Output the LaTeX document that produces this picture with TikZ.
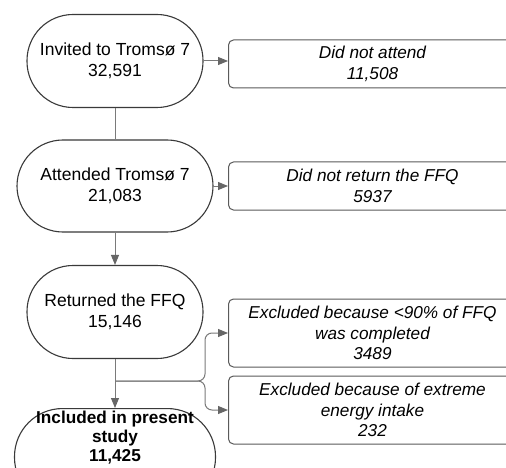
\documentclass[tikz,border=0pt]{standalone}
\usepackage{fontspec}
\setmainfont{Liberation Sans}
\usetikzlibrary{arrows.meta}
\definecolor{stadline}{HTML}{3A3A3A}
\definecolor{boxline}{HTML}{5A5A5A}
\definecolor{conn}{HTML}{7A7A7A}
\definecolor{tipc}{HTML}{666666}
\tikzset{
  stad/.style={draw=stadline, line width=1.1pt, fill=white, rounded corners=46pt,
    minimum height=93pt, align=center, inner sep=0pt,
    font=\fontsize{17.5}{20.5}\selectfont},
  ibox/.style={draw=boxline, line width=1pt, fill=white, rounded corners=5pt,
    minimum width=288pt, align=center, inner sep=0pt,
    font=\fontsize{17.2}{20.5}\selectfont\itshape},
  conline/.style={draw=conn, line width=1pt},
  arr/.style={conline, -{Triangle[length=10pt,width=8pt,color=tipc]}}
}
\begin{document}
\begin{tikzpicture}[x=1pt,y=-1pt]
\clip (0,0) rectangle (506,468);
\fill[white] (0,0) rectangle (506,468);
% stadiums
\node[stad, minimum width=176pt] (s1) at (115,61) {Invited to Tromsø 7\\32,591};
\node[stad, minimum width=196pt, minimum height=92pt] (s2) at (115,186) {Attended Tromsø 7\\21,083};
\node[stad, minimum width=176pt] (s3) at (115,312) {Returned the FFQ\\15,146};
\node[stad, minimum width=201pt, minimum height=97pt, rounded corners=48pt,
  anchor=north] (s4) at (115,408) {};
\node[font=\fontsize{17.2}{19}\selectfont\bfseries, align=center, anchor=north, inner sep=0pt] (t4) at (115,411)
  {Included in present\\study\\11,425};
% boxes
\node[ibox, minimum height=48pt, anchor=west] (b1) at (228,64) {Did not attend\\11,508};
\node[ibox, minimum height=48pt, anchor=west] (b2) at (228,186) {Did not return the FFQ\\5937};
\node[ibox, minimum height=68pt, anchor=west] (b3) at (228,333) {Excluded because <90\% of FFQ\\was completed\\3489};
\node[ibox, minimum height=68pt, anchor=west] (b4) at (228,410) {Excluded because of extreme\\energy intake\\232};
% connectors
\draw[conline] (s1) -- (s2);
\draw[arr] (s2) -- (s3);
\draw[arr] (s3) -- (s4);
\draw[arr] (s1.east) -- (s1.east -| b1.west);
\draw[arr] (s2.east) -- (s2.east -| b2.west);
\coordinate (br) at (115,381);
\coordinate (jn) at (205,381);
\draw[arr, rounded corners=7pt] (br) -- (jn) |- (b3.west);
\draw[arr, rounded corners=7pt] (br) -- (jn) |- (b4.west);
\end{tikzpicture}
\end{document}
